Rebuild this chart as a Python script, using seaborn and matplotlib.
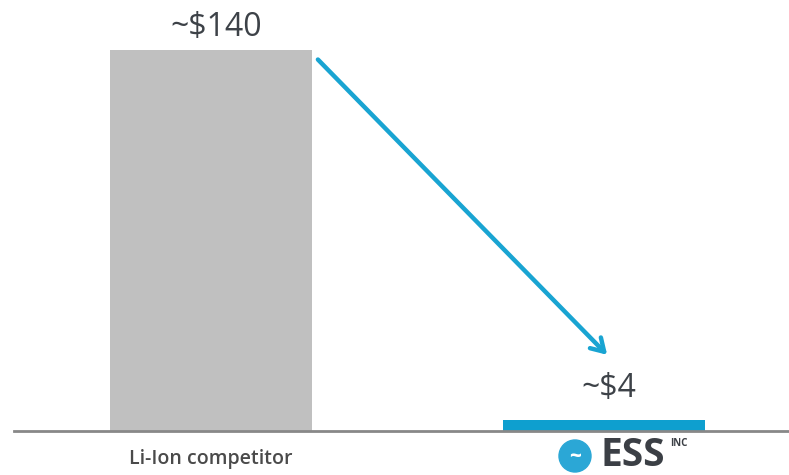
import matplotlib
matplotlib.use("Agg")
import matplotlib.pyplot as plt
import seaborn as sns
import pandas as pd
from matplotlib.patches import Ellipse

categories = ["Li-Ion competitor", "ESS"]
values = [140, 4]
value_labels = ["~$140", "~$4"]
bar_colors = ["#c0c0c0", "#0e9fcf"]

sns.set_style("white")
plt.rcParams['font.family'] = ['Open Sans', 'DejaVu Sans']

df = pd.DataFrame({"cat": categories, "val": values})

fig = plt.figure(figsize=(7.89, 4.75), dpi=100)
ax = fig.add_axes([14/789, 44/475, 775/789, 431/475])
bw = 0.514
sns.barplot(data=df, x="cat", y="val", hue="cat", palette=bar_colors,
            width=bw, ax=ax, legend=False, saturation=1, edgecolor="none")
ax.set_xlim(-197/393, 578/393)
ax.set_ylim(0, 140 * 431 / 381)

for s in ["top", "right", "left"]:
    ax.spines[s].set_visible(False)
ax.spines["bottom"].set_color("#888888")
ax.spines["bottom"].set_linewidth(2)
ax.set_yticks([])
ax.set_xlabel("")
ax.set_ylabel("")
ax.set_xticks([0, 1])
ax.set_xticklabels([categories[0], ""], fontsize=14, color="#4a4a4a",
                   fontweight="semibold")
ax.tick_params(axis="x", length=0, pad=13)

label_offsets = [4, 11]
for i, (v, lab, off) in enumerate(zip(values, value_labels, label_offsets)):
    ax.annotate(lab, xy=(i + 0.013, v), xytext=(0, off), textcoords="offset points",
                ha="center", va="bottom", fontsize=23, color="#3d4248")

# arrow from top of first bar toward second
ax.annotate("", xy=(1.008, values[1] + 24), xytext=(bw / 2 + 0.015, values[0] - 3.5),
            arrowprops=dict(arrowstyle="->,head_length=0.9,head_width=0.55",
                            color="#19a4d2", lw=3.2, shrinkA=0, shrinkB=0))

# ESS logo
r = 16
fig.add_artist(Ellipse((575/789, 1 - 456/475), 2 * r / 789, 2 * r / 475,
                       transform=fig.transFigure, color="#2ba7d6", zorder=5))
fig.text(575/789, 1 - 457/475, "~", color="white", fontsize=15, ha="center",
         va="center", fontweight="bold", zorder=6)
fig.text(601/789, 1 - 456/475, "ESS", color="#3b3f45", fontsize=28,
         fontweight="bold", ha="left", va="center", family=["Open Sans"])
fig.text(670/789, 1 - 444/475, "INC", color="#3b3f45", fontsize=7,
         fontweight="bold", ha="left", va="center")

fig.savefig("out.png", dpi=100)
